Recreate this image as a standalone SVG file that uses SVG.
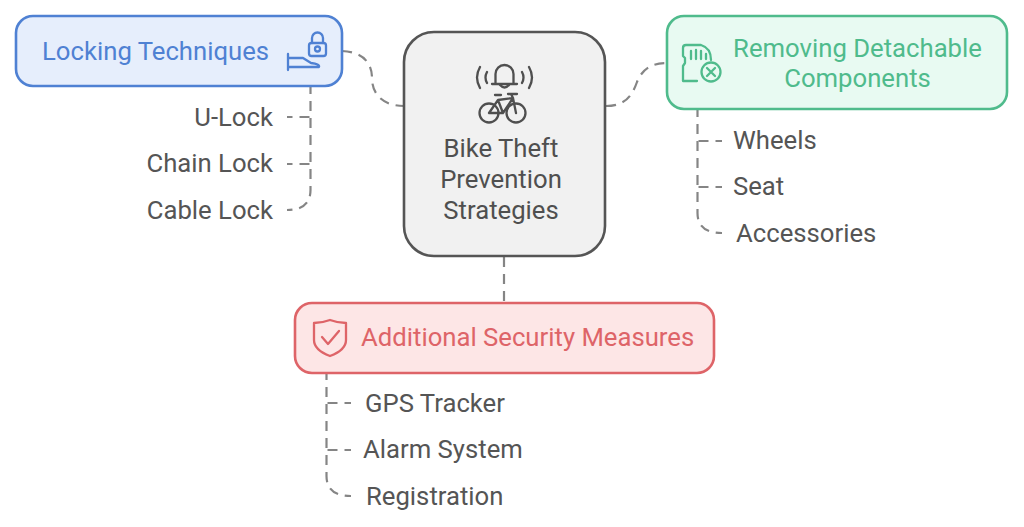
<svg xmlns="http://www.w3.org/2000/svg" width="1024" height="527" viewBox="0 0 1024 527">
<style>
text{font-family:Roboto,"Liberation Sans",sans-serif;font-size:25.700px}
.leaf{fill:#555}
.con{fill:none;stroke:#858585;stroke-width:2.200;stroke-dasharray:10 7}
.box{stroke-width:2.600}
.ic{fill:none;stroke-width:2.300;stroke-linecap:round;stroke-linejoin:round}
.blue{fill:#4f81d3}.green{fill:#4fbb8c}.red{fill:#de6468}.dark{fill:#4f4f4f}
</style>
<rect width="1024" height="527" fill="#fff"/>
<g id="connectors">
<path class="con" d="M342 51C362 52 372 62 372 78C372 96 385 106 404 106"/>
<path class="con" d="M606 106C625 106 632 96 637 82C642 70 650 63 667 63"/>
<path class="con" d="M504 257V302"/>
<path class="con" d="M310.500 87V190Q310.500 210 287 210" stroke-dashoffset="3"/>
<path class="con" d="M310.500 117H287" stroke-dashoffset="-1"/>
<path class="con" d="M310.500 164H287" stroke-dashoffset="-1"/>
<path class="con" d="M697.500 110V213Q697.500 233 722 233" stroke-dashoffset="3"/>
<path class="con" d="M697.500 141H722" stroke-dashoffset="-1"/>
<path class="con" d="M697.500 187H722" stroke-dashoffset="-1"/>
<path class="con" d="M326.500 373V476Q326.500 496 351 496" stroke-dashoffset="3"/>
<path class="con" d="M326.500 403H351" stroke-dashoffset="-1"/>
<path class="con" d="M326.500 450H351" stroke-dashoffset="-1"/>
</g>
<g id="node-center">
<rect class="box" x="404" y="32" width="201" height="224" rx="30" fill="#f1f1f1" stroke="#555"/>
<g class="ic" stroke="#4f4f4f">
<path d="M495.500 84V74a9 9 0 0 1 18 0V84M492 84H517M500 85q4.500 5 9 0"/>
<path d="M487 72q-3 5.500 0 11M480 67q-6 10.500 0 21M522 72q3 5.500 0 11M529 67q6 10.500 0 21"/>
<circle cx="489" cy="113" r="9.500"/><circle cx="516" cy="113" r="9.500"/>
<path d="M489 113L498 100L513 98L516 113M498 100L503 113H489M503 113L513 98M495 95H501M508 94H517M513 98L511 94"/>
</g>
<text class="dark" x="501" y="157" text-anchor="middle">Bike Theft</text>
<text class="dark" x="501" y="188" text-anchor="middle">Prevention</text>
<text class="dark" x="501" y="219" text-anchor="middle">Strategies</text>
</g>
<g id="node-locking">
<rect class="box" x="16" y="16" width="326" height="70" rx="17" fill="#e6eefc" stroke="#4f81d3"/>
<text class="blue" x="42" y="60">Locking Techniques</text>
<g class="ic" stroke="#4f81d3">
<rect x="309" y="43" width="17" height="13" rx="2.500"/>
<path d="M312 43V38a5.500 5.500 0 0 1 11 0V43"/>
<circle cx="317.500" cy="49" r="2.500"/>
<path d="M288 54V70M288 58H303L311 63Q320 64 319 67H288"/>
</g>
</g>
<g id="leaf-ulock"><text class="leaf" x="273" y="126" text-anchor="end">U-Lock</text></g>
<g id="leaf-chain"><text class="leaf" x="273" y="172" text-anchor="end">Chain Lock</text></g>
<g id="leaf-cable"><text class="leaf" x="273" y="219" text-anchor="end">Cable Lock</text></g>
<g id="node-removing">
<rect class="box" x="667" y="16" width="340" height="93" rx="17" fill="#e8faf2" stroke="#4fbb8c"/>
<text class="green" x="857.500" y="57" text-anchor="middle">Removing Detachable</text>
<text class="green" x="857.500" y="87" text-anchor="middle">Components</text>
<g class="ic" stroke="#4fbb8c">
<path d="M697 81H683V66L685 63V58L683 56V48Q683 45 686 45H701Q711 48 711 60"/>
<path d="M691 51V59M696 50V59M701 51V59M706 54V59"/>
<circle cx="711" cy="72" r="9.500"/>
<path d="M707 68L715 76M715 68L707 76"/>
</g>
</g>
<g id="leaf-wheels"><text class="leaf" x="733" y="149">Wheels</text></g>
<g id="leaf-seat"><text class="leaf" x="733" y="195">Seat</text></g>
<g id="leaf-accessories"><text class="leaf" x="736" y="242">Accessories</text></g>
<g id="node-additional">
<rect class="box" x="295" y="303" width="419" height="70" rx="17" fill="#fde6e6" stroke="#de6468"/>
<text class="red" x="361" y="346">Additional Security Measures</text>
<g class="ic" stroke="#de6468">
<path d="M330 320Q322 323 314 323V340C314 348 322 353 330 356C338 353 346 348 346 340V323Q338 323 330 320Z"/>
<path d="M322 337L328 344L339 331"/>
</g>
</g>
<g id="leaf-gps"><text class="leaf" x="365" y="412">GPS Tracker</text></g>
<g id="leaf-alarm"><text class="leaf" x="363" y="458">Alarm System</text></g>
<g id="leaf-registration"><text class="leaf" x="366" y="505">Registration</text></g>
</svg>
